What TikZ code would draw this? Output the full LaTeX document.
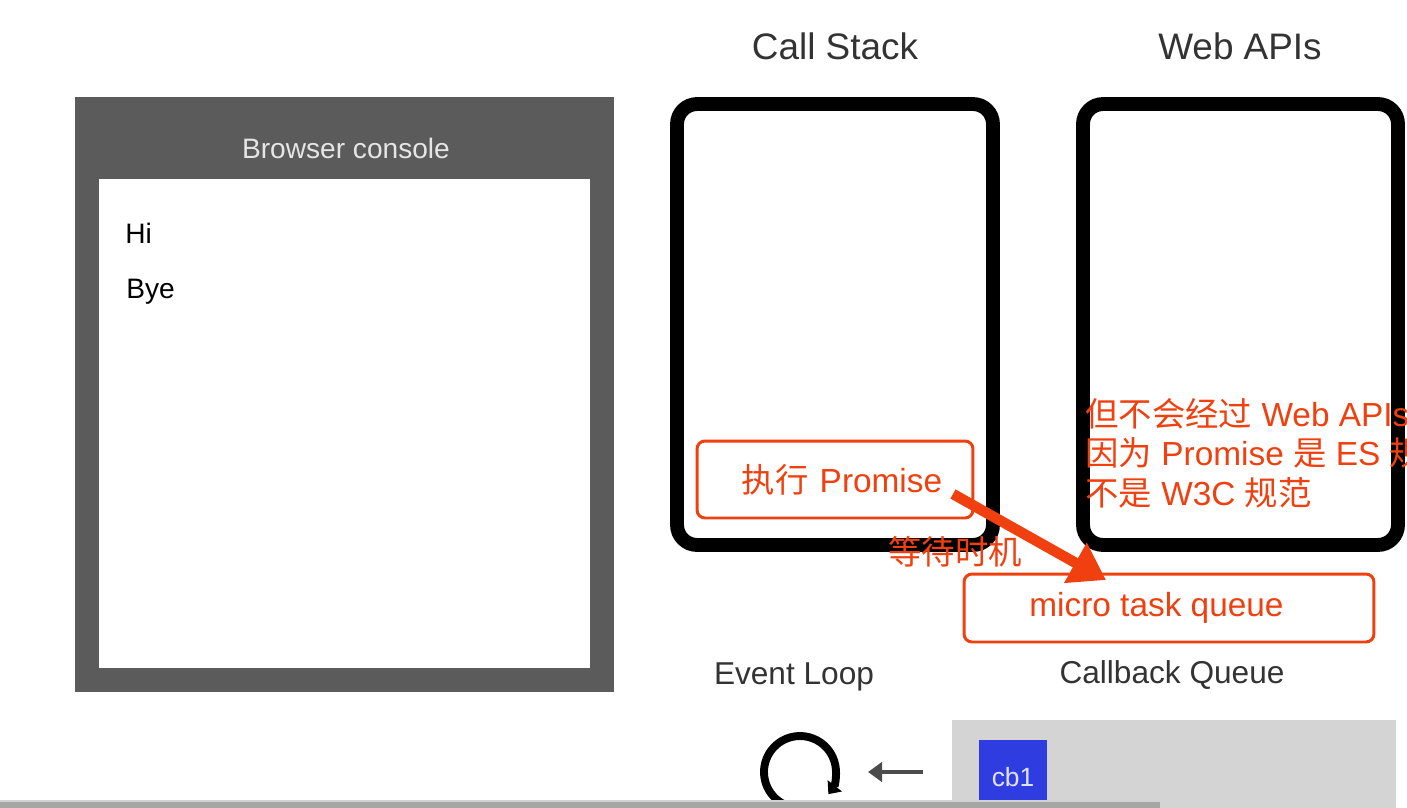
\documentclass[tikz,border=0pt]{standalone}
\usepackage{fontspec}
\setmainfont{Liberation Sans}
\newfontfamily\cjk{Noto Sans CJK SC}
\usetikzlibrary{arrows.meta}
\definecolor{consolegray}{HTML}{5B5B5B}
\definecolor{notered}{HTML}{F0400F}
\definecolor{queuegray}{HTML}{D4D4D4}
\definecolor{cbblue}{HTML}{2F3DE0}
\definecolor{labelgray}{HTML}{333333}
\tikzset{
  title/.style={inner sep=0pt, text=labelgray, font=\fontsize{21}{25}\selectfont},
  sublabel/.style={inner sep=0pt, text=labelgray, font=\fontsize{18}{22}\selectfont},
  logline/.style={anchor=west, inner sep=0pt, font=\fontsize{16}{19}\selectfont},
  runbox/.style={draw=black, line width=7.9pt, rounded corners=0.4cm},
  notebox/.style={draw=notered, line width=1.7pt, rounded corners=0.16cm,
    text=notered, font=\fontsize{19}{23}\selectfont},
  note/.style={inner sep=0pt, text=notered, font=\fontsize{19}{22.4}\selectfont},
}
\begin{document}
\begin{tikzpicture}[x=0.02cm, y=-0.02cm]
  \useasboundingbox (0,0) rectangle (1407,808);
  % browser console
  \fill[consolegray] (75,97) rectangle (614,692);
  \fill[white] (99,179) rectangle (590,668);
  \node[inner sep=0pt, text=gray!20, font=\fontsize{16}{19}\selectfont] (console) at (346,148) {Browser console};
  \node[logline] (hi) at (125,233) {Hi};
  \node[logline] (bye) at (126,292) {Bye};
  % call stack and web apis
  \node[title] (stacktitle) at (835,46) {Call Stack};
  \node[title] (apistitle) at (1240,46) {Web APIs};
  \node[runbox, minimum width=6.32cm, minimum height=8.82cm] (stack) at (835,324.5) {};
  \node[runbox, minimum width=6.3cm, minimum height=8.82cm] (apis) at (1240.5,324.5) {};
  % promise notes
  \node[notebox, minimum width=5.52cm, minimum height=1.54cm, text width=5.2cm, align=center] (exec) at (835,479.5)
    {\hspace*{0.28cm}{\cjk 执行} Promise};
  \node[notebox, minimum width=8.2cm, minimum height=1.36cm] (micro) at (1169,608)
    {\hspace*{-0.5cm}micro task queue};
  \node[note, anchor=west] (wait) at (888,552) {\cjk 等待时机};
  \node[note, anchor=west, align=left] (why) at (1085,453)
    {{\cjk 但不会经过} Web APIs\\{\cjk 因为} Promise {\cjk 是} ES {\cjk 规}\\{\cjk 不是} W3C {\cjk 规范}};
  \coordinate (execout) at (953,494);
  \coordinate (microin) at (1106,580);
  \draw[notered, line width=6pt, -{Triangle[length=20pt, width=25pt]}] (execout) -- (microin);
  % event loop and callback queue
  \node[sublabel] (looptitle) at (794,677) {Event Loop};
  \node[sublabel] (queuetitle) at (1172,675) {Callback Queue};
  \fill[queuegray] (952,720) rectangle (1396,808);
  \node[fill=cbblue, text=white!85!cbblue, minimum width=1.36cm, minimum height=1.5cm,
    inner sep=0pt, font=\fontsize{15}{18}\selectfont] (cb1) at (1013,777) {cb1};
  \coordinate (loop) at (800,772);
  \draw[line width=4.5pt, -{Triangle[length=6pt, width=10pt]}]
    (loop) ++(-250:36) arc[start angle=250, end angle=-38, radius=0.72cm];
  \coordinate (queueout) at (923,772);
  \coordinate (loopin) at (868,772);
  \draw[gray!60!black, line width=2.4pt, -{Triangle[length=8pt, width=11pt]}] (queueout) -- (loopin);
  % scroll bar
  \fill[gray!70] (0,801) rectangle (1160,808);
  \draw[gray!35, line width=0.6pt] (0,801) -- (1160,801);
\end{tikzpicture}
\end{document}
